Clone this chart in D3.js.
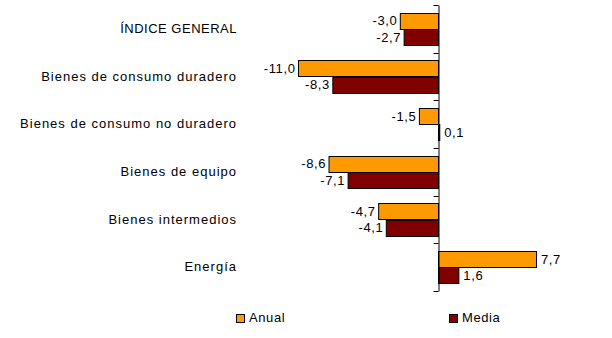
<!DOCTYPE html>
<html><head><meta charset="utf-8">
<script src="https://cdn.jsdelivr.net/npm/d3@7"></script>
<style>body{margin:0;background:#fff}svg text{font-family:"Liberation Sans",Arial,sans-serif}</style>
</head><body><svg id="c" width="612" height="338"></svg>
<script>
const categories = ["ÍNDICE GENERAL","Bienes de consumo duradero","Bienes de consumo no duradero","Bienes de equipo","Bienes intermedios","Energía"];
const anual = [-3.0,-11.0,-1.5,-8.6,-4.7,7.7];
const media = [-2.7,-8.3,0.1,-7.1,-4.1,1.6];
const seriesNames = ["Anual","Media"];
const colors = ["#FF9900","#800000"];

const svg = d3.select("#c");
const x = d3.scaleLinear().domain([-12,10]).range([438-12*12.73, 438+10*12.73]);
const y = d3.scaleBand().domain(categories).range([5,291]).paddingInner(0).paddingOuter(0);
const inner = d3.scaleBand().domain(seriesNames).range([0,y.bandwidth()]).paddingInner(0).paddingOuter(0.46);
const fmt = v => d3.format(".1f")(v).replace(".",",").replace("−","-");

const g = svg.append("g");
const series = [anual, media];
series.forEach((vals,si)=>{
  g.selectAll(".b"+si).data(vals).enter().append("rect")
    .attr("x", d=>x(Math.min(0,d))+0.5)
    .attr("width", d=>Math.abs(x(d)-x(0)))
    .attr("y", (d,i)=>Math.round(y(categories[i])+inner(seriesNames[si]))+0.5)
    .attr("height", Math.round(inner.bandwidth()))
    .attr("fill", colors[si]).attr("stroke","#000").attr("stroke-width",1);
  g.selectAll(".l"+si).data(vals).enter().append("text")
    .attr("x", d=> d<0 ? x(d)-2.5 : x(d)+5)
    .attr("y", (d,i)=>y(categories[i])+inner(seriesNames[si])+inner.bandwidth()/2)
    .attr("dy","0.35em")
    .attr("text-anchor", d=> d<0 ? "end":"start")
    .attr("font-size",13).attr("letter-spacing",0.6).attr("fill","#000")
    .text(d=>fmt(d));
});

// axis
const ax = svg.append("g").attr("transform",`translate(${x(0)+0.5},0)`)
  .call(d3.axisLeft(y).tickSize(0).tickFormat(""));
ax.select(".domain").attr("stroke","#000");
const bounds = categories.map(c=>y(c)).concat([y.range()[1]]);
ax.selectAll(".tk").data(bounds).enter().append("line").attr("class","tk")
  .attr("x1",-5).attr("x2",0).attr("y1",d=>Math.round(d)+0.5).attr("y2",d=>Math.round(d)+0.5).attr("stroke","#000");

// category labels
svg.selectAll(".cat").data(categories).enter().append("text")
  .attr("x",237).attr("y",d=>y(d)+y.bandwidth()/2-0.5).attr("dy","0.35em")
  .attr("text-anchor","end").attr("font-size",13).attr("letter-spacing",d=>d===d.toUpperCase()?0.5:1)
  .attr("fill","#000").text(d=>d);

// legend
const legX = [236,449];
seriesNames.forEach((s,i)=>{
  svg.append("rect").attr("x",legX[i]+0.5).attr("y",314.5).attr("width",8).attr("height",8)
    .attr("fill",colors[i]).attr("stroke","#000");
  svg.append("text").attr("x",legX[i]+13).attr("y",317).attr("dy","0.35em")
    .attr("font-size",13).attr("letter-spacing",0.6).attr("fill","#000").text(s);
});
</script></body></html>
